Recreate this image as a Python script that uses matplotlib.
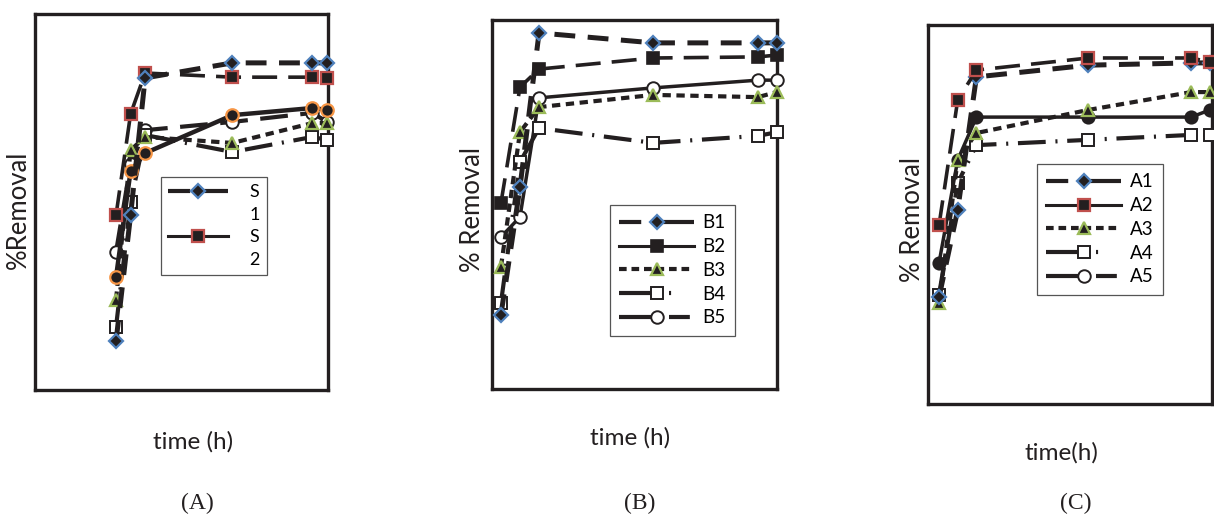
import matplotlib
matplotlib.use('Agg')
import matplotlib.pyplot as plt
from matplotlib.lines import Line2D

plt.rcParams['font.family'] = ['Lato', 'DejaVu Sans']
plt.rcParams['lines.scale_dashes'] = False

W, H = 1214, 514

# ---------------- data ----------------
time_h = [0, 1, 2, 8, 13.5, 14.5]

# Panel A (%Removal)
A_labels = ['S1', 'S2', 'S3', 'S4', 'S5', 'S6']
A_S1 = [13.0, 46.5, 83.0, 87.0, 87.0, 87.0]
A_S2 = [46.5, 73.4, 84.3, 83.2, 83.2, 83.0]
A_S3 = [24.0, 63.8, 67.3, 65.7, 71.0, 71.0]
A_S4 = [16.8, 50.0, 67.8, 63.3, 67.3, 66.5]
A_S5 = [30.1, 58.2, 63.0, 73.1, 75.0, 74.5]
A_S6 = [36.7, 60.0, 69.1, 71.3, 73.7, 71.3]

# Panel B
B_labels = ['B1', 'B2', 'B3', 'B4', 'B5']
B_1 = [20.1, 54.7, 96.5, 93.8, 93.8, 93.8]
B_2 = [50.4, 81.8, 86.7, 89.7, 90.0, 90.5]
B_3 = [33.1, 69.6, 76.4, 79.7, 79.1, 80.5]
B_4 = [23.3, 61.5, 70.7, 66.7, 68.6, 69.6]
B_5 = [41.2, 46.6, 78.9, 81.6, 83.7, 83.7]

# Panel C
C_labels = ['A1', 'A2', 'A3', 'A4', 'A5']
C_1 = [28.2, 51.2, 86.3, 89.4, 90.0, 90.0]
C_2 = [47.2, 80.2, 88.1, 91.3, 91.3, 90.2]
C_3 = [26.6, 64.4, 71.5, 77.6, 82.3, 82.3]
C_4 = [28.8, 58.3, 68.3, 69.7, 71.0, 71.0]
C_5 = [37.2, 64.4, 75.7, 75.7, 75.7, 77.6]

# ---------------- styles ----------------
K = '#231f20'
BLUE, RED, GREEN, ORANGE = '#4f81bd', '#c0504d', '#9bbb59', '#f79646'

mk_diamond = dict(marker='D', ms=7, mfc=K, mec=BLUE, mew=1.6)
mk_rsq = dict(marker='s', ms=8.5, mfc=K, mec=RED, mew=1.6)
mk_tri = dict(marker='^', ms=8.5, mfc=K, mec=GREEN, mew=1.6)
mk_osq = dict(marker='s', ms=8.5, mfc='white', mec=K, mew=1.4)
mk_ocirc_orange = dict(marker='o', ms=9, mfc=K, mec=ORANGE, mew=1.6)
mk_ocirc = dict(marker='o', ms=9, mfc='white', mec=K, mew=1.4)
mk_bsq = dict(marker='s', ms=9, mfc=K, mec=K, mew=1.2)
mk_bcirc = dict(marker='o', ms=9, mfc=K, mec=K, mew=1.2)

ls_longdash_thick = dict(lw=3.6, dashes=(15, 9))
ls_longdash = dict(lw=2.6, dashes=(18, 8))
ls_short = dict(lw=3.0, dashes=(6, 4))
ls_dashdot = dict(lw=3.0, dashes=(20, 7, 1.5, 7))
ls_solid = dict(lw=2.5, ls='-')
ls_solid_thick = dict(lw=3.2, ls='-')
ls_dash5 = dict(lw=3.0, dashes=(20, 9))

# legend sample styles
lg1 = dict(lw=3.0, dashes=(16, 8.5, 40, 5))
lg2 = dict(lw=2.2, ls='-')
lg3 = dict(lw=3.0, dashes=(5.5, 3.5))
lg4 = dict(lw=3.0, dashes=(29, 7, 1.5, 20))
lg5 = dict(lw=3.0, dashes=(29, 7, 15, 5))

fig = plt.figure(figsize=(W / 100, H / 100), dpi=100)


def add_ax(l, r, t, b, xlim):
    ax = fig.add_axes([l / W, 1 - b / H, (r - l) / W, (b - t) / H])
    ax.set_xlim(*xlim)
    ax.set_ylim(0, 100)
    ax.set_xticks([])
    ax.set_yticks([])
    for s in ax.spines.values():
        s.set_linewidth(2.4)
        s.set_color(K)
    return ax


def series(ax, y, ls, mk, z=3):
    ax.plot(time_h, y, color=K, clip_on=False, zorder=z, **ls, **mk)


def proxy(ls, mk):
    return Line2D([], [], color=K, **ls, **mk)


def legend(ax, handles, labels, x0, y0, fs, hl, ls, htp, bp):
    leg = ax.legend(handles, labels, loc='upper left',
                    bbox_to_anchor=(x0 / W, 1 - y0 / H),
                    bbox_transform=fig.transFigure, borderaxespad=0,
                    fontsize=fs, handlelength=hl, labelspacing=ls,
                    handletextpad=htp, borderpad=bp, numpoints=1,
                    fancybox=False, framealpha=1, edgecolor='#555555')
    leg.get_frame().set_linewidth(0.9)
    leg.set_zorder(10)
    return leg


# ---------------- Panel A ----------------
axA = add_ax(35, 328, 14, 390, (-5.57, 14.57))
series(axA, A_S6, ls_dash5, mk_ocirc)
series(axA, A_S4, ls_dashdot, mk_osq)
series(axA, A_S3, ls_short, mk_tri)
series(axA, A_S5, ls_solid_thick, mk_ocirc_orange)
series(axA, A_S2, ls_longdash, mk_rsq)
series(axA, A_S1, ls_longdash_thick, mk_diamond)
blank = Line2D([], [], ls='none')
legend(axA, [proxy(lg1, mk_diamond), blank, proxy(lg2, mk_rsq), blank],
       ['S', '1', 'S', '2'], 161, 177, 13, 3.3, 0.36, 1.2, 0.4)

# ---------------- Panel B ----------------
axB = add_ax(492, 777, 20, 389, (-0.47, 14.5))
series(axB, B_5, ls_solid, mk_ocirc)
series(axB, B_4, ls_dashdot, mk_osq)
series(axB, B_3, ls_short, mk_tri)
series(axB, B_2, ls_longdash, mk_bsq)
series(axB, B_1, ls_longdash_thick, mk_diamond)
legend(axB, [proxy(lg1, mk_diamond), proxy(lg2, mk_bsq), proxy(lg3, mk_tri),
             proxy(lg4, mk_osq), proxy(lg5, mk_ocirc)],
       B_labels, 610, 205, 13.5, 4.0, 0.36, 0.4, 0.5)

# ---------------- Panel C ----------------
axC = add_ax(928, 1212, 25, 404, (-0.59, 14.61))
series(axC, C_4, ls_dashdot, mk_osq)
series(axC, C_5, ls_solid, mk_bcirc)
series(axC, C_3, ls_short, mk_tri)
series(axC, C_1, ls_longdash_thick, mk_diamond)
series(axC, C_2, ls_longdash, mk_rsq)
legend(axC, [proxy(lg1, mk_diamond), proxy(lg2, mk_rsq), proxy(lg3, mk_tri),
             proxy(lg4, mk_osq), proxy(lg5, mk_ocirc)],
       C_labels, 1037, 164, 13.5, 4.0, 0.36, 0.45, 0.5)

# ---------------- texts ----------------
def ftext(x, y, s, **kw):
    fig.text(x / W, 1 - y / H, s, ha='center', va='center', color=K, **kw)

ftext(18, 210, '%Removal', rotation=90, fontsize=18.5)
ftext(473, 209, '% Removal', rotation=90, fontsize=18.5)
ftext(912, 220, '% Removal', rotation=90, fontsize=18.5)
ftext(193, 442, 'time (h)', fontsize=17.5)
ftext(630, 438, 'time (h)', fontsize=17.5)
ftext(1061, 453, 'time(h)', fontsize=17.5)
serif = ['Liberation Serif', 'DejaVu Serif']
ftext(197, 503, '(A)', fontsize=17, family=serif)
ftext(640, 503, '(B)', fontsize=17, family=serif)
ftext(1076, 503, '(C)', fontsize=17, family=serif)

fig.savefig('out.png', dpi=100)
